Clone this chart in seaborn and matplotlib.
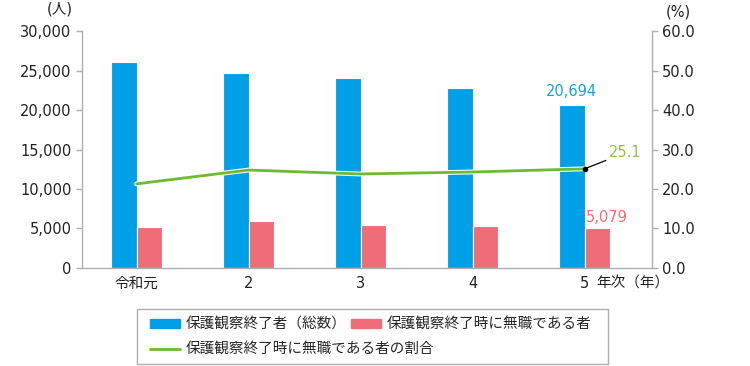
import numpy as np
import pandas as pd
import matplotlib
matplotlib.use("Agg")
import matplotlib.pyplot as plt
import matplotlib.patheffects as pe
from matplotlib.patches import Rectangle
from matplotlib.lines import Line2D
import seaborn as sns

years = ["令和元", "2", "3", "4", "5"]
total = [26050, 24700, 24050, 22850, 20694]
jobless = [5230, 5900, 5480, 5350, 5079]
rate = [21.3, 24.8, 23.8, 24.3, 25.1]
series_names = ["保護観察終了者（総数）", "保護観察終了時に無職である者", "保護観察終了時に無職である者の割合"]

blue = "#00A0E9"
red = "#EE6D76"
green = "#6DBB2F"
grey = "#AFAFAF"
ink = "#222222"

sns.set_style("white")
plt.rcParams["font.family"] = ["DejaVu Sans", "Noto Sans CJK JP"]

df = pd.DataFrame({
    "year": years * 2,
    "value": total + jobless,
    "series": [series_names[0]] * 5 + [series_names[1]] * 5,
})

fig = plt.figure(figsize=(7.5, 3.66), dpi=100)
ax = fig.add_axes([0.109, 0.268, 0.76, 0.647])
sns.barplot(data=df, x="year", y="value", hue="series", palette=[blue, red], saturation=1,
            width=0.46, edgecolor="white", linewidth=0.8, ax=ax, legend=False)
ax.set_xlim(-0.49, 4.6)
ax.set_ylim(0, 30000)
ax.set_yticks(range(0, 30001, 5000))
ax.set_yticklabels([f"{v:,}" for v in range(0, 30001, 5000)], fontsize=10.5, color=ink)
ax.set_xticks(range(5))
ax.set_xticklabels(years, fontsize=10.5, color=ink)
ax.set_xlabel("")
ax.set_ylabel("")
ax.tick_params(axis="y", length=4, color=grey, width=1)
ax.tick_params(axis="x", length=0, pad=6)
for s in ["top", "right"]:
    ax.spines[s].set_visible(False)
for s in ["left", "bottom"]:
    ax.spines[s].set_color(grey)
    ax.spines[s].set_linewidth(1)

ax2 = ax.twinx()
sns.lineplot(x=np.arange(5), y=rate, color=green, linewidth=2, ax=ax2,
             path_effects=[pe.Stroke(linewidth=3.5, foreground="white"), pe.Normal()])
ax2.set_ylim(0, 60)
ax2.set_xlim(-0.49, 4.6)
ax2.set_yticks(range(0, 61, 10))
ax2.set_yticklabels([f"{v:.1f}" for v in range(0, 61, 10)], fontsize=10.5, color=ink)
ax2.tick_params(axis="y", length=4, color=grey, width=1)
for s in ["top", "left", "bottom"]:
    ax2.spines[s].set_visible(False)
ax2.spines["right"].set_color(grey)
ax2.spines["right"].set_linewidth(1)

# annotations
ax.text(4 - 0.115, total[4] + 700, f"{total[4]:,}", color="#1AA0E6", fontsize=10.5, ha="center", va="bottom")
ax.text(4 + 0.2, jobless[4] + 300, f"{jobless[4]:,}", color="#EE6D76", fontsize=10.5, ha="center", va="bottom")
ax2.plot([4], [rate[4]], "o", color="black", markersize=3)
ax2.annotate(f"{rate[4]}", xy=(4, rate[4]), xytext=(4.22, 29.2), color="#8CC152",
             fontsize=10.5, va="center", ha="left",
             arrowprops=dict(arrowstyle="-", color="black", lw=0.9, shrinkA=0, shrinkB=0))

fig.text(0.08, 0.975, "(人)", fontsize=10.5, ha="center", va="center", color=ink)
fig.text(0.905, 0.968, "(%)", fontsize=10.5, ha="center", va="center", color=ink)
fig.text(0.795, 0.226, "年次（年）", fontsize=10.5, ha="left", va="center", color=ink)

# legend
fig.patches.append(Rectangle((0.183, 0.005), 0.628, 0.152, transform=fig.transFigure,
                             fill=False, edgecolor=grey, linewidth=1))
h1 = [Rectangle((0, 0), 1, 1, color=blue), Rectangle((0, 0), 1, 1, color=red)]
fig.legend(h1, series_names[:2], loc="center left", bbox_to_anchor=(0.183, 0.115), ncol=2,
           frameon=False, fontsize=10.5, handlelength=2.0, handleheight=0.6,
           handletextpad=0.45, columnspacing=0.3)
h2 = [Line2D([0], [0], color=green, linewidth=2)]
fig.legend(h2, series_names[2:], loc="center left", bbox_to_anchor=(0.183, 0.045),
           frameon=False, fontsize=10.5, handlelength=2.0, handletextpad=0.45)

fig.savefig("out.png", dpi=100)
